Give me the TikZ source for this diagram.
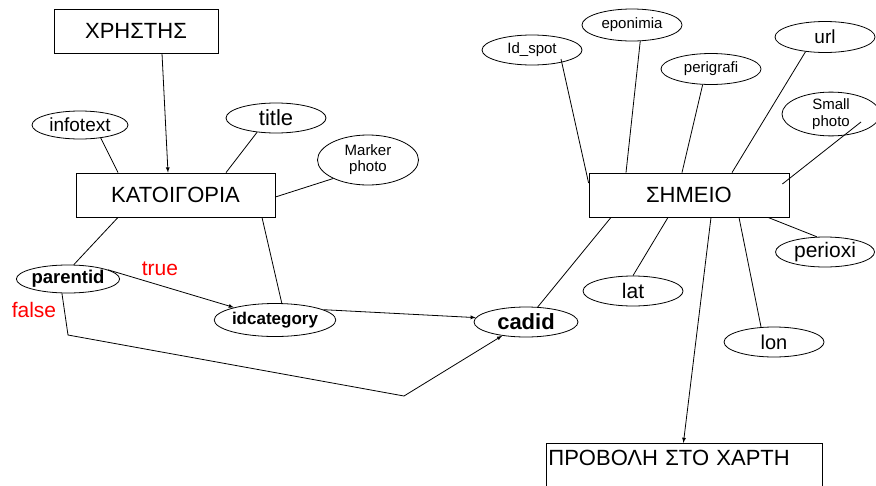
\documentclass[tikz,border=0pt]{standalone}
\usepackage{fontspec}
\setmainfont{Liberation Sans}
\usetikzlibrary{shapes.geometric}
\newcommand{\fsz}[2]{\fontsize{#1}{#2}\selectfont}

\begin{document}
\begin{tikzpicture}[x=1pt, y=-1pt,
	entity/.style={draw, line width=0.8pt, minimum height=44pt, inner sep=0pt, font=\fsz{22}{26}},
	attr/.style={draw, ellipse, line width=0.8pt, inner sep=0pt, minimum width=100pt, minimum height=30pt},
	link/.style={line width=0.8pt},
	arr/.style={line width=0.8pt, -latex},
	cond/.style={text=red, inner sep=0pt, font=\fsz{21}{25}}]
	\useasboundingbox (0,0) rectangle (876,485);
	\clip (0,0) rectangle (876,485);
	\node[entity, minimum width=164pt] (xristis) at (136,31) {ΧΡΗΣΤΗΣ};
	\node[entity, minimum width=199pt] (katigoria) at (175.5,195) {ΚΑΤΟΙΓΟΡΙΑ};
	\node[entity, minimum width=200pt] (simeio) at (689,195) {ΣΗΜΕΙΟ};
	\node[entity, anchor=north west, text width=272pt, inner xsep=2pt, align=left, text height=22pt, text depth=22pt] (provoli) at (546,443) {ΠΡΟΒΟΛΗ ΣΤΟ ΧΑΡΤΗ};
	\node[attr, minimum width=96pt, minimum height=28pt, font=\fsz{19}{22}] (infotext) at (80,125) {infotext};
	\node[attr, font=\fsz{22}{26}] (title) at (276,118) {title};
	\node[attr, minimum width=101pt, minimum height=50pt, align=center, font=\fsz{15}{16}] (marker) at (368,160) {Marker\\photo};
	\node[attr, minimum width=101pt, minimum height=28pt, font=\bfseries\fsz{18.5}{22}] (parentid) at (68,279) {parentid};
	\node[attr, minimum width=101pt, minimum height=33pt, font=\bfseries\fsz{17}{20}] (idcategory) at (275,320) {idcategory};
	\node[attr, minimum width=104pt, minimum height=30pt, font=\bfseries\fsz{22}{26}] (cadid) at (526,322) {cadid};
	\node[attr, font=\fsz{15}{18}] (idspot) at (532,50) {Id\_spot};
	\node[attr, minimum height=32pt, font=\fsz{15}{18}] (eponimia) at (632,25) {eponimia};
	\node[attr, minimum height=31pt, font=\fsz{15}{18}] (perigrafi) at (711,69) {perigrafi};
	\node[attr, minimum height=31pt, font=\fsz{19}{22}] (url) at (825,37) {url};
	\node[attr, minimum width=98pt, align=center, font=\fsz{15}{17}] (smallphoto) at (831,114) {Small\\photo};
	\node[attr, minimum width=99pt, font=\fsz{21}{25}] (perioxi) at (825,252) {perioxi};
	\node[attr, font=\fsz{21}{25}] (lat) at (633,291) {lat};
	\node[attr, font=\fsz{20}{24}] (lon) at (774,342) {lon};
	\node[cond] (lbltrue) at (160,269) {true};
	\node[cond] (lblfalse) at (34,310) {false};
	\coordinate (fbend1) at (68,335);
	\coordinate (fbend2) at (404,396);
	\draw[arr] ([xshift=26pt]xristis.south) -- ([xshift=-7.5pt]katigoria.north);
	\draw[link] (infotext.-32) -- ([xshift=-57.5pt]katigoria.north);
	\draw[link] (title.-143) -- ([xshift=50.5pt]katigoria.north);
	\draw[link] (marker.-152) -- ([yshift=-2pt]katigoria.east);
	\draw[link] ([xshift=-57.5pt]katigoria.south) -- (parentid.68);
	\draw[link] ([xshift=86.5pt]katigoria.south) -- (idcategory.68);
	\draw[arr] (parentid.13) -- (idcategory.163);
	\draw[arr] (parentid.-113) -- (fbend1) -- (fbend2) -- (cadid.-150);
	\draw[arr] (idcategory.12) -- (cadid.175);
	\draw[link] (cadid.52) -- ([xshift=-78pt]simeio.south);
	\draw[link] ([shift={(29,9)}]idspot.center) -- ([yshift=12pt]simeio.west);
	\draw[link] (eponimia.-63) -- ([xshift=-63pt]simeio.north);
	\draw[link] (perigrafi.-118) -- ([xshift=-7pt]simeio.north);
	\draw[link] (url.-143) -- ([xshift=43pt]simeio.north);
	\draw[link] ([shift={(30,8)}]smallphoto.center) -- ([shift={(-7,-11)}]simeio.east);
	\draw[link] ([xshift=-21pt]simeio.south) -- (lat.90);
	\draw[arr] ([xshift=22pt]simeio.south) -- ([xshift=-1pt]provoli.north);
	\draw[link] ([xshift=50pt]simeio.south) -- (lon.131);
	\draw[link] ([xshift=79pt]simeio.south) -- (perioxi.118);
\end{tikzpicture}
\end{document}
